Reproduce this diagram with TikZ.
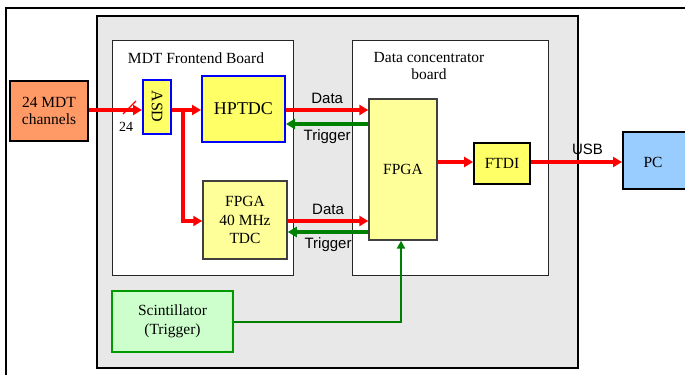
\documentclass[tikz,border=0pt]{standalone}
\usepackage{fontspec}
\setmainfont{Liberation Serif}
\newfontfamily\labfont{Liberation Sans}
\usetikzlibrary{arrows.meta}
\definecolor{bggrey}{HTML}{E8E8E8}
\definecolor{orangebox}{HTML}{FF9966}
\definecolor{yelbox}{HTML}{FFFF66}
\definecolor{ltyel}{HTML}{FFFF99}
\definecolor{pcblue}{HTML}{99CCFF}
\definecolor{scfill}{HTML}{CCFFCC}
\definecolor{scgreen}{HTML}{009900}
\definecolor{trgreen}{HTML}{008000}
\definecolor{asdblue}{HTML}{0000FF}
\tikzset{
  box/.style={draw=black, line width=1.8pt, inner sep=0pt, align=center,
    font=\fontsize{15.5}{18}\selectfont},
  bluebox/.style={box, draw=asdblue, line width=2pt},
  board/.style={draw=black!85, line width=1pt, fill=white},
  dataarrow/.style={draw=red, line width=3.4pt, -{Triangle[length=9pt,width=10pt]}},
  trigarrow/.style={draw=trgreen, line width=3.2pt, -{Triangle[length=9pt,width=10pt]}},
  lab/.style={font=\labfont\fontsize{15}{17}\selectfont, inner sep=0pt},
  title/.style={font=\fontsize{15.5}{17}\selectfont, align=center, inner sep=0pt}
}
\begin{document}
\begin{tikzpicture}[x=1pt, y=-1pt]
\useasboundingbox (0,0) rectangle (685,375);
% outer frame
\draw[line width=1.6pt] (6,375) -- (6,8) -- (690,8);
% grey background
\draw[fill=bggrey, line width=1.5pt] (97,16) rectangle (578,368);
% boards
\draw[board] (112,40) rectangle (293,275);
\draw[board] (352,40) rectangle (548,275);
\node[title] (tmdt) at (196,58) {MDT Frontend Board};
\node[title] (tdc) at (429,66) {Data concentrator\\board};
% nodes
\node[box, fill=orangebox, minimum width=78pt, minimum height=60pt,
      font=\fontsize{15.5}{17}\selectfont] (ch) at (49,111) {24 MDT\\channels};
\node[bluebox, fill=yelbox, minimum width=28pt, minimum height=54pt] (asd) at (157,106.5) {};
\node[rotate=-90, font=\fontsize{16}{18}\selectfont, inner sep=0pt] (asdt) at (asd.center) {ASD};
\node[bluebox, fill=yelbox, minimum width=83pt, minimum height=66pt,
      font=\fontsize{18}{20}\selectfont] (hp) at (243.5,108.5) {HPTDC};
\node[box, draw=black!75, line width=1.5pt, fill=ltyel, minimum width=84pt, minimum height=78pt,
      font=\fontsize{15.5}{18.5}\selectfont] (ftdc) at (245,220) {FPGA\\40 MHz\\TDC};
\node[box, draw=black!75, line width=1.3pt, fill=ltyel, minimum width=68pt, minimum height=141pt] (fpga) at (403,169.5) {FPGA};
\node[box, fill=yelbox, minimum width=56pt, minimum height=41pt] (ftdi) at (502,163.5) {FTDI};
\node[box, fill=pcblue, minimum width=72pt, minimum height=57pt, anchor=west] (pc) at (622,160.5) {};
\node[font=\fontsize{15.5}{18}\selectfont, inner sep=0pt] (pct) at (653,162) {PC};
\node[box, draw=scgreen, line width=2.2pt, fill=scfill, minimum width=121pt, minimum height=61pt,
      font=\fontsize{15.5}{19}\selectfont] (sc) at (172.5,321.5) {Scintillator\\(Trigger)};
% coordinates
\coordinate (br) at (183,110);
\coordinate (bl) at (183,221);
\coordinate (sk) at (401,322);
\coordinate (s1) at (123,114);
\coordinate (s2) at (136,101);
% connectors
\draw[dataarrow] (ch.east |- 0,110) -- (asd.west |- 0,110);
\draw[red, line width=1.4pt] (s1) -- (s2);
\node[font=\fontsize{14}{16}\selectfont, inner sep=0pt] (n24) at (126,127) {24};
\draw[dataarrow] (asd.east |- 0,110) -- (hp.west |- 0,110);
\draw[dataarrow] (br) -- (bl) -- (ftdc.west |- bl);
\draw[dataarrow] (hp.east |- 0,110) -- (fpga.west |- 0,110)
  node[lab, midway, above=5pt] (d1) {Data};
\draw[trigarrow] (fpga.west |- 0,124) -- (hp.east |- 0,124)
  node[lab, midway, below=4pt] (t1) {Trigger};
\draw[dataarrow] (ftdc.east |- 0,221) -- (fpga.west |- 0,221)
  node[lab, midway, above=5pt] (d2) {Data};
\draw[trigarrow] (fpga.west |- 0,232) -- (ftdc.east |- 0,232)
  node[lab, midway, below=4pt] (t2) {Trigger};
\draw[dataarrow] (fpga.east |- 0,162) -- (ftdi.west |- 0,162);
\draw[dataarrow] (ftdi.east |- 0,162) -- (pc.west |- 0,162)
  node[lab, midway, above=6pt, xshift=11pt] (usb) {USB};
\draw[draw=trgreen, line width=2pt, -{Triangle[length=8pt,width=8pt]}]
  (sc.east |- sk) -- (sk) -- (fpga.south -| sk);
\end{tikzpicture}
\end{document}
